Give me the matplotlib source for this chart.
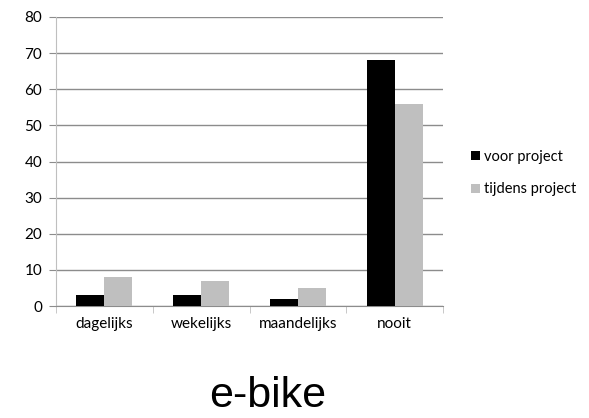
import numpy as np
import matplotlib.pyplot as plt

# Gegevens
categorieen = ['dagelijks', 'wekelijks', 'maandelijks', 'nooit']
voor_project = [3, 3, 2, 68]
tijdens_project = [8, 7, 5, 56]

plt.rcParams['font.family'] = ['Lato', 'DejaVu Sans']

fig = plt.figure(figsize=(5.89, 4.18), dpi=100)
ax = fig.add_axes([56 / 589, 1 - 306 / 418, (443 - 56) / 589, (306 - 17) / 418])

pos = np.arange(len(categorieen))
breedte = 0.29
ax.bar(pos - breedte / 2, voor_project, width=breedte, color='black', label='voor project', zorder=3)
ax.bar(pos + breedte / 2, tijdens_project, width=breedte, color='#bfbfbf', label='tijdens project', zorder=3)

ax.set_xlim(-0.5, len(categorieen) - 0.5)
ax.set_ylim(0, 80)
ax.set_yticks(range(0, 81, 10))
ax.yaxis.grid(True, color='#8c8c8c', linewidth=1, zorder=0)
ax.set_xticks(pos)
ax.set_xticklabels(categorieen)
ax.set_xticks(np.arange(-0.5, len(categorieen)), minor=True)
ax.tick_params(axis='x', which='major', length=0, pad=8, labelsize=11)
ax.tick_params(axis='x', which='minor', length=5, color='#bfbfbf', direction='out')
ax.tick_params(axis='y', length=5, color='#8c8c8c', labelsize=11, pad=5)

for s in ['top', 'right']:
    ax.spines[s].set_visible(False)
ax.spines['left'].set_color('#bfbfbf')
ax.spines['bottom'].set_color('#8c8c8c')

fig.legend(loc='center left', bbox_to_anchor=(458 / 589, 1 - 173 / 418), frameon=False, fontsize=10.5,
           handlelength=0.6, handleheight=0.6, handletextpad=0.3, labelspacing=1.3)

fig.text(268 / 589, 1 - 396 / 418, 'e-bike', family='Liberation Sans', fontsize=31,
         ha='center', va='center')

fig.savefig('out.png', dpi=100)
